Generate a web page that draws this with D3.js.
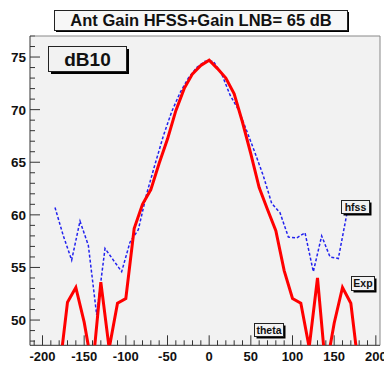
<!DOCTYPE html>
<html>
<head>
<meta charset="utf-8">
<script src="https://cdn.jsdelivr.net/npm/d3@7"></script>
<style>
html,body{margin:0;padding:0;background:#ffffff;}
svg{display:block;font-family:"Liberation Sans",Arial,sans-serif;}
</style>
</head>
<body>
<svg id="chart" width="384" height="365"></svg>
<script>
// ---- data ----
const expTheta = [-180,-170,-160,-150,-140,-130,-120,-110,-100,-90,-80,-70,-60,-50,-40,-30,-20,-10,0,10,20,30,40,50,60,70,80,90,100,110,120,130,140,150,160,170,180];
const expGain  = [45.0,51.7,53.1,49.8,45.3,53.6,47.3,51.6,52.05,58.7,61.0,62.4,64.9,67.2,69.9,72.0,73.4,74.2,74.7,73.9,73.0,71.5,68.8,65.8,62.6,60.5,58.5,54.7,52.05,51.6,47.4,54.0,45.2,49.7,53.1,51.6,45.0];
const hfssTheta = [-185,-175,-165,-155,-145,-135,-125,-115,-105,-95,-85,-75,-65,-55,-45,-35,-25,-15,-5,5,15,25,35,45,55,65,75,85,95,105,115,125,135,145,155,165];
const hfssGain  = [60.7,58.0,55.7,59.4,57.1,50.5,56.8,55.7,54.6,57.4,58.6,62.0,64.8,67.5,69.8,71.6,73.0,74.0,74.6,74.6,73.4,71.4,70.0,68.0,65.9,63.7,61.1,60.2,57.9,57.8,58.3,54.6,58.0,56.0,55.85,60.0];
const xTickLabels = [-200,-150,-100,-50,0,50,100,150,200];
const yTickLabels = [50,55,60,65,70,75];
const titleText = "Ant Gain HFSS+Gain LNB= 65 dB";
const histName = "dB10";
const labelHfss = "hfss";
const labelExp = "Exp";
const labelTheta = "theta";

// ---- layout ----
const svg = d3.select("#chart");
const fL = 30, fR = 380, fT = 36, fB = 345.3;
const x = d3.scaleLinear().domain([-215, 205]).range([fL, fR]);
const y = d3.scaleLinear().domain([47.6, 77.0]).range([fB, fT]);

svg.append("rect").attr("x",0).attr("y",0).attr("width",384).attr("height",365).attr("fill","#ffffff");
svg.append("rect").attr("x",fL).attr("y",fT).attr("width",fR-fL).attr("height",fB-fT)
  .attr("fill","#f2f2f2");

svg.append("clipPath").attr("id","fclip").append("rect")
  .attr("x",fL).attr("y",fT).attr("width",fR-fL).attr("height",fB-fT);

// ticks
const g = svg.append("g");
d3.range(-210, 205, 10).forEach(v => {
  const major = v % 50 === 0;
  g.append("line").attr("x1",x(v)).attr("x2",x(v)).attr("y1",fB).attr("y2",fB-(major?10:5))
    .attr("stroke","#333").attr("stroke-width",1);
});
d3.range(48, 77.01, 1).forEach(v => {
  const major = v % 5 === 0;
  g.append("line").attr("x1",fL).attr("x2",fL+(major?10:5)).attr("y1",y(v)).attr("y2",y(v))
    .attr("stroke","#333").attr("stroke-width",1);
});

// frame border
svg.append("line").attr("x1",fL).attr("x2",fR).attr("y1",fT).attr("y2",fT).attr("stroke","#888");
svg.append("line").attr("x1",fR).attr("x2",fR).attr("y1",fT).attr("y2",fB).attr("stroke","#888");
svg.append("line").attr("x1",fL).attr("x2",fL).attr("y1",fT).attr("y2",fB).attr("stroke","#333");
svg.append("line").attr("x1",fL).attr("x2",fR).attr("y1",fB).attr("y2",fB).attr("stroke","#333");

// tick labels
xTickLabels.forEach(v => {
  svg.append("text").attr("x",x(v)).attr("y",361).attr("text-anchor","middle")
    .attr("font-size",13).attr("font-weight","bold").attr("fill","#111").text(v);
});
yTickLabels.forEach(v => {
  svg.append("text").attr("x",26).attr("y",y(v)+5).attr("text-anchor","end")
    .attr("font-size",13.5).attr("font-weight","bold").attr("fill","#111").text(v);
});

// lines
const line = d3.line().x(d => x(d[0])).y(d => y(d[1]));
const plot = svg.append("g").attr("clip-path","url(#fclip)");
plot.append("path").datum(hfssTheta.map((t,i)=>[t,hfssGain[i]]))
  .attr("d",line).attr("fill","none").attr("stroke","#2222ee").attr("stroke-width",1.5)
  .attr("stroke-dasharray","3,2");
plot.append("path").datum(expTheta.map((t,i)=>[t,expGain[i]]))
  .attr("d",line).attr("fill","none").attr("stroke","#ff0000").attr("stroke-width",3)
  .attr("stroke-linejoin","miter");

// boxes with shadow
function box(x0,y0,x1,y1,txt,fs,sh,fill){
  svg.append("rect").attr("x",x0+sh).attr("y",y0+sh).attr("width",x1-x0).attr("height",y1-y0).attr("fill","#000");
  svg.append("rect").attr("x",x0).attr("y",y0).attr("width",x1-x0).attr("height",y1-y0)
    .attr("fill",fill).attr("stroke","#222").attr("stroke-width",1);
  svg.append("text").attr("x",(x0+x1)/2).attr("y",(y0+y1)/2).attr("dy","0.36em")
    .attr("text-anchor","middle").attr("font-size",fs).attr("font-weight","bold").attr("fill","#111").text(txt);
}
box(54.5,10.5,347.5,30.5,titleText,16.5,1.5,"#f7f7f7");
box(48.5,46.5,126.5,71.5,histName,19,2.5,"#f2f2f2");
box(341.5,200.5,369.5,213.5,labelHfss,10.5,2,"#f2f2f2");
box(351.5,276.5,374.5,290.5,labelExp,10.5,2,"#f2f2f2");
box(254.5,323.5,283.5,336.5,labelTheta,10.5,2,"#f2f2f2");
</script>
</body>
</html>
